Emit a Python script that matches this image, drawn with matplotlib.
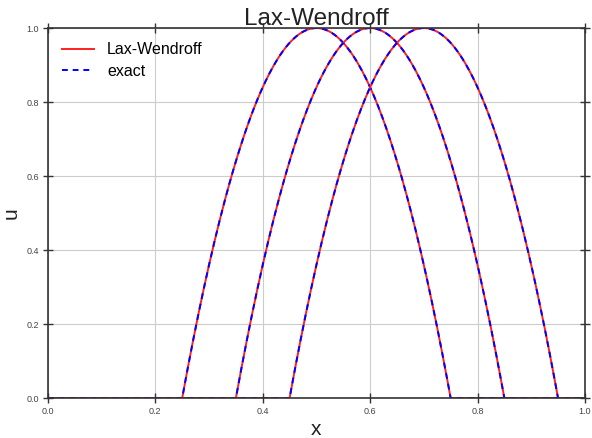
import numpy as np
import matplotlib
matplotlib.use("Agg")
import matplotlib.pyplot as plt

plt.rcParams["font.family"] = ["Liberation Sans", "DejaVu Sans"]

# Data: parabolic pulse advected to three times
centers = [0.5, 0.6, 0.7]
half_width = 0.25
peak = 1.0
x_ticks = [0.0, 0.2, 0.4, 0.6, 0.8, 1.0]
y_ticks = [0.0, 0.2, 0.4, 0.6, 0.8, 1.0]
n_points = 401

x = np.linspace(0.0, 1.0, n_points)

def pulse(x, c):
    s = (x - c) / half_width
    return np.where(np.abs(s) < 1, peak * (1 - s**2), 0.0)

fig = plt.figure(figsize=(5.92, 4.38), dpi=100)
ax = fig.add_axes([0.081, 0.091, 0.907, 0.845])

ax.grid(True, color="#cccccc", linewidth=0.8)
ax.set_axisbelow(True)

for i, c in enumerate(centers):
    u = pulse(x, c)
    ax.plot(x, u, color="#ff2020", lw=1.4, label="Lax-Wendroff" if i == 0 else None)
    ax.plot(x, u, color="blue", lw=1.4, ls=(0, (3.0, 2.5)), label="exact" if i == 0 else None)

ax.set_xlim(0, 1)
ax.set_ylim(0, 1)
ax.set_xticks(x_ticks)
ax.set_yticks(y_ticks)
ax.tick_params(direction="inout", length=7, width=1, color="#333333",
               labelsize=6.5, labelcolor="#444444", top=True, right=True, pad=3)
for s in ax.spines.values():
    s.set_color("#333333")
    s.set_linewidth(1.2)

ax.set_xlabel("x", fontsize=15, color="#222222", labelpad=3)
ax.set_ylabel("u", fontsize=15, color="#222222", labelpad=4)
ax.set_title("Lax-Wendroff", fontsize=17.5, color="#222222", pad=2)

ax.legend(loc="upper left", frameon=False, fontsize=11.5, handlelength=2.0,
          borderaxespad=0.5, labelspacing=0.4)

fig.savefig("out.png", dpi=100)
